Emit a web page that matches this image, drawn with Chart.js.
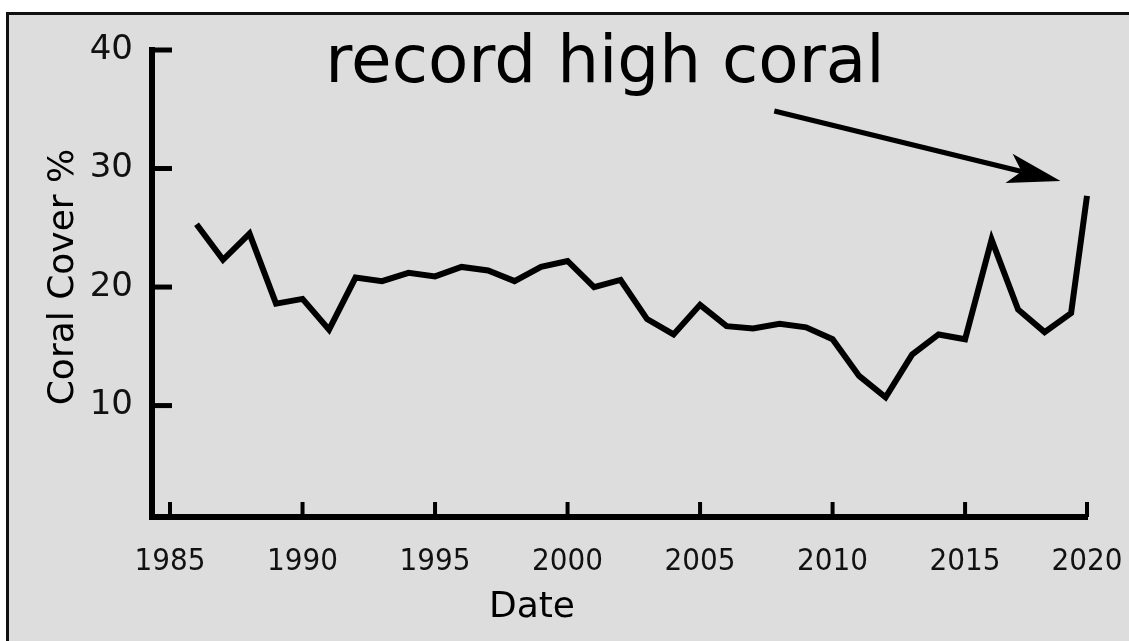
<!DOCTYPE html>
<html>
<head>
<meta charset="utf-8">
<script src="https://cdn.jsdelivr.net/npm/chart.js@4/dist/chart.umd.min.js"></script>
<style>
  html, body { margin: 0; padding: 0; background: #fff; }
  canvas { display: block; }
</style>
</head>
<body>
<canvas id="canvas1" width="1129" height="641"></canvas>
<script>
// survey years; last survey sits just before the "2020" mark in the source figure
var years = [1986, 1987, 1988, 1989, 1990, 1991, 1992, 1993, 1994, 1995,
  1996, 1997, 1998, 1999, 2000, 2001, 2002, 2003, 2004, 2005,
  2006, 2007, 2008, 2009, 2010, 2011, 2012, 2013, 2014, 2015,
  2016, 2017, 2018, 2019, 2019.6];
var coralCover = [25.3, 22.3, 24.5, 18.6, 19.0, 16.4, 20.8, 20.5, 21.2, 20.9,
  21.7, 21.4, 20.5, 21.7, 22.2, 20.0, 20.6, 17.3, 16.0, 18.5,
  16.7, 16.5, 16.9, 16.6, 15.6, 12.5, 10.7, 14.3, 16.0, 15.6,
  24.0, 18.1, 16.2, 17.8, 27.7];

var xTickValues = [1985, 1990, 1995, 2000, 2005, 2010, 2015, 2019.6];
var xTickLabels = ['1985', '1990', '1995', '2000', '2005', '2010', '2015', '2020'];
var yTickValues = [10, 20, 30, 40];

var titleText = 'record high coral';
var yAxisTitle = 'Coral Cover %';
var xAxisTitle = 'Date';
// arrow from [year, value] to [year, value]
var arrowFrom = [2007.8, 34.85];
var arrowTo = [2018.6, 28.95];

var SANS = "'DejaVu Sans', Verdana, sans-serif";
var CONDENSED = "'DejaVu Sans Condensed', 'DejaVu Sans', sans-serif";

var backdrop = {
  id: 'backdrop',
  beforeDraw: function(chart) {
    var ctx = chart.ctx;
    ctx.save();
    ctx.fillStyle = '#ffffff';
    ctx.fillRect(0, 0, chart.width, chart.height);
    ctx.fillStyle = '#dddddd';
    ctx.fillRect(6, 12, chart.width - 6, chart.height - 12);
    ctx.fillStyle = '#111111';
    ctx.fillRect(6, 12, chart.width - 6, 3);
    ctx.fillRect(6, 12, 3, chart.height - 12);
    ctx.restore();
  }
};

var extras = {
  id: 'extras',
  afterDraw: function(chart) {
    var ctx = chart.ctx;
    var xs = chart.scales.x, ys = chart.scales.y;
    var area = chart.chartArea;
    ctx.save();
    ctx.strokeStyle = '#000';
    ctx.lineCap = 'butt';

    // inward tick marks
    ctx.lineWidth = 5;
    yTickValues.forEach(function(v) {
      var py = ys.getPixelForValue(v);
      ctx.beginPath();
      ctx.moveTo(area.left, py);
      ctx.lineTo(area.left + 20, py);
      ctx.stroke();
    });
    ctx.lineWidth = 4;
    xTickValues.forEach(function(v) {
      var px = xs.getPixelForValue(v);
      ctx.beginPath();
      ctx.moveTo(px, area.bottom);
      ctx.lineTo(px, area.bottom - 15);
      ctx.stroke();
    });

    // titles
    ctx.fillStyle = '#000';
    ctx.textAlign = 'center';
    ctx.textBaseline = 'alphabetic';
    ctx.font = '66px ' + SANS;
    ctx.fillText(titleText, 605, 82);

    ctx.font = '36px ' + SANS;
    ctx.fillText(xAxisTitle, 532, 617);

    ctx.save();
    ctx.translate(73, 277);
    ctx.rotate(-Math.PI / 2);
    ctx.fillText(yAxisTitle, 0, 0);
    ctx.restore();

    // arrow
    var x0 = xs.getPixelForValue(arrowFrom[0]), y0 = ys.getPixelForValue(arrowFrom[1]);
    var x1 = xs.getPixelForValue(arrowTo[0]), y1 = ys.getPixelForValue(arrowTo[1]);
    var dx = x1 - x0, dy = y1 - y0, len = Math.sqrt(dx * dx + dy * dy);
    var ux = dx / len, uy = dy / len, nx = -uy, ny = ux;
    var head = 53, half = 15, notch = 40;
    ctx.lineWidth = 5;
    ctx.beginPath();
    ctx.moveTo(x0, y0);
    ctx.lineTo(x1 - ux * notch, y1 - uy * notch);
    ctx.stroke();
    ctx.beginPath();
    ctx.moveTo(x1, y1);
    ctx.lineTo(x1 - ux * head + nx * half, y1 - uy * head + ny * half);
    ctx.lineTo(x1 - ux * notch, y1 - uy * notch);
    ctx.lineTo(x1 - ux * head - nx * half, y1 - uy * head - ny * half);
    ctx.closePath();
    ctx.fill();
    ctx.restore();
  }
};

var points = years.map(function(y, i) { return {x: y, y: coralCover[i]}; });

window.onload = function() {
  var ctx1 = document.getElementById('canvas1').getContext('2d');
  window.myLine = new Chart(ctx1, {
    type: 'line',
    data: {
      datasets: [{
        label: 'Coral cover',
        data: points,
        borderColor: '#000',
        borderWidth: 6,
        borderCapStyle: 'butt',
        borderJoinStyle: 'miter',
        pointRadius: 0,
        tension: 0,
        fill: false,
        clip: false
      }]
    },
    options: {
      responsive: false,
      devicePixelRatio: 1,
      animation: false,
      layout: { padding: { top: 50, right: 42, left: 0, bottom: 0 } },
      plugins: {
        legend: { display: false },
        tooltip: { enabled: false }
      },
      scales: {
        x: {
          type: 'linear',
          min: 1984.32,
          max: 2019.6,
          grid: { display: false, drawTicks: false },
          border: { display: true, color: '#000', width: 6 },
          afterBuildTicks: function(scale) {
            scale.ticks = xTickValues.map(function(v) { return {value: v}; });
          },
          afterFit: function(scale) {
            scale.height = 124;
            scale.paddingLeft = 0;
            scale.paddingRight = 0;
          },
          ticks: {
            color: '#111',
            padding: 26,
            maxRotation: 0,
            autoSkip: false,
            font: { family: CONDENSED, size: 31 },
            callback: function(value) {
              var i = xTickValues.indexOf(value);
              return i >= 0 ? xTickLabels[i] : '';
            }
          }
        },
        y: {
          min: 0.6,
          max: 40,
          grid: { display: false, drawTicks: false },
          border: { display: true, color: '#000', width: 6 },
          afterBuildTicks: function(scale) {
            scale.ticks = yTickValues.map(function(v) { return {value: v}; });
          },
          afterFit: function(scale) {
            scale.width = 152;
            scale.paddingTop = 0;
            scale.paddingBottom = 0;
          },
          ticks: {
            color: '#111',
            padding: 19,
            font: { family: SANS, size: 34 }
          }
        }
      }
    },
    plugins: [backdrop, extras]
  });
};
</script>
</body>
</html>
